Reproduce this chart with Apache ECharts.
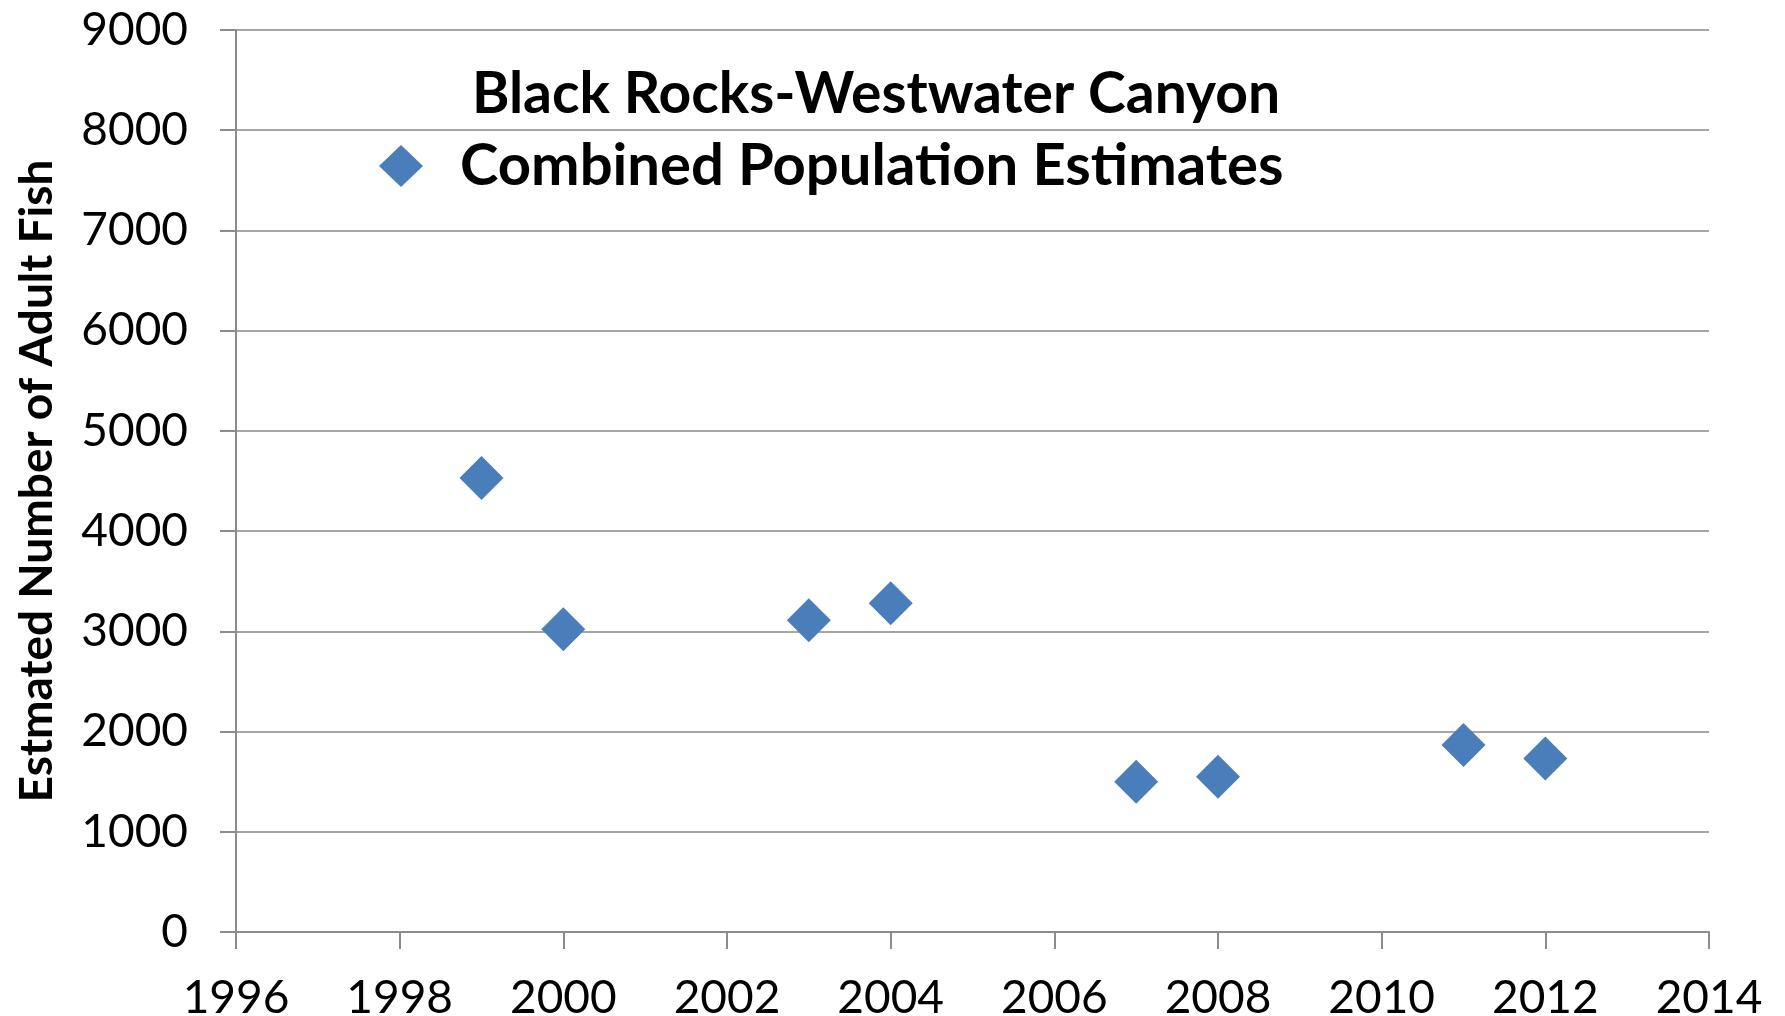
<!DOCTYPE html>
<html>
<head>
<meta charset="utf-8">
<script src="https://cdn.jsdelivr.net/npm/echarts@6/dist/echarts.min.js"></script>
<style>
html,body{margin:0;padding:0;background:#fff;}
#chart{width:1785px;height:1016px;}
</style>
</head>
<body>
<div id="chart"></div>
<script>
const years = [1999, 2000, 2003, 2004, 2007, 2008, 2011, 2012];
const estimates = [4530, 3020, 3110, 3280, 1500, 1550, 1865, 1730];
const legendTitle = "Black Rocks-Westwater Canyon";
const seriesName = "Combined Population Estimates";
const yAxisTitle = "Estmated Number of Adult Fish";

const chart = echarts.init(document.getElementById('chart'));
const labelFont = "Lato, 'Noto Sans', sans-serif";
const boldFont = "Lato, 'Noto Sans', sans-serif";
chart.setOption({
  backgroundColor: '#ffffff',
  animation: false,
  title: {
    text: legendTitle,
    left: 871, top: 61, textAlign: 'center',
    textStyle: {fontFamily: boldFont, fontSize: 57, fontWeight: 'bold', color: '#000'}
  },
  legend: {
    left: 374, top: 132,
    itemWidth: 44, itemHeight: 42,
    data: [{name: seriesName, icon: 'diamond'}],
    itemStyle: {opacity: 1},
    textStyle: {fontFamily: boldFont, fontSize: 58, fontWeight: 'bold', color: '#000', padding: [0,0,0,32]}
  },
  grid: {left: 236, right: 76, top: 30, bottom: 84, outerBoundsMode: 'none', containLabel: false},
  xAxis: {
    type: 'value', min: 1996, max: 2014, interval: 2,
    axisLine: {show: true, lineStyle: {color: '#8c8c8c', width: 2}},
    axisTick: {show: true, length: 17, lineStyle: {color: '#8c8c8c', width: 2}},
    splitLine: {show: false},
    axisLabel: {fontFamily: labelFont, fontSize: 46, color: '#000', margin: 43, formatter: v => String(v)}
  },
  yAxis: {
    type: 'value', min: 0, max: 9000, interval: 1000,
    name: yAxisTitle, nameLocation: 'middle', nameRotate: 90, nameGap: 176,
    nameTextStyle: {fontFamily: boldFont, fontSize: 46, fontWeight: 'bold', color: '#000'},
    axisLine: {show: true, lineStyle: {color: '#8c8c8c', width: 2}},
    axisTick: {show: true, length: 16, lineStyle: {color: '#8c8c8c', width: 2}},
    splitLine: {show: true, lineStyle: {color: '#a6a6a6', width: 2}},
    axisLabel: {fontFamily: labelFont, fontSize: 46, color: '#000', margin: 48, formatter: v => String(v)}
  },
  series: [{
    name: seriesName,
    type: 'scatter',
    symbol: 'diamond',
    symbolSize: [44, 44],
    itemStyle: {color: '#4a7ebb', opacity: 1},
    data: years.map((y, i) => [y, estimates[i]])
  }]
});
</script>
</body>
</html>
